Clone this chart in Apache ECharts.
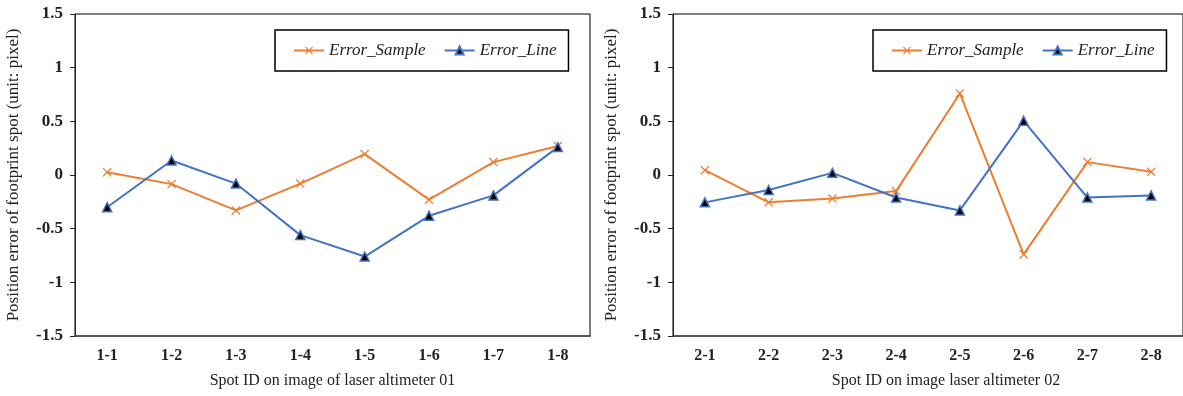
<!DOCTYPE html>
<html>
<head>
<meta charset="utf-8">
<script src="https://cdn.jsdelivr.net/npm/echarts@6/dist/echarts.min.js"></script>
<style>
  html, body { margin: 0; padding: 0; background: #fff; }
  #chart { width: 1183px; height: 396px; }
</style>
</head>
<body>
<div id="chart"></div>
<script>
// values
const spots1 = ['1-1', '1-2', '1-3', '1-4', '1-5', '1-6', '1-7', '1-8']
const spots2 = ['2-1', '2-2', '2-3', '2-4', '2-5', '2-6', '2-7', '2-8']
const sample1 = [0.025, -0.085, -0.33, -0.08, 0.195, -0.23, 0.12, 0.27]
const line1 = [-0.30, 0.135, -0.08, -0.56, -0.76, -0.38, -0.19, 0.26]
const sample2 = [0.045, -0.255, -0.22, -0.15, 0.76, -0.74, 0.12, 0.03]
const line2 = [-0.255, -0.14, 0.02, -0.21, -0.33, 0.505, -0.21, -0.19]
const yTicks = { min: -1.5, max: 1.5, interval: 0.5 }

const orange = '#ED7D31'
const blue = '#4472C4'
const serif = '"Liberation Serif", "Times New Roman", serif'
const cross = 'path://M0,1L1,0L5,4L9,0L10,1L6,5L10,9L9,10L5,6L1,10L0,9L4,5Z'

const chart = echarts.init(document.getElementById('chart'))

const xAxisOf = function (idx, data, name, shift) {
    return {
        type: 'category',
        gridIndex: idx,
        data,
        name,
        nameLocation: 'middle',
        nameGap: 37,
        nameTextStyle: { fontFamily: serif, fontSize: 16, color: '#222', padding: [0, 0, 0, shift] },
        axisLine: { onZero: false, lineStyle: { color: '#555', width: 2 } },
        axisTick: { show: false },
        axisLabel: { fontFamily: serif, fontSize: 16, fontWeight: 'bold', color: '#222', margin: 12 }
    }
}
const yAxisOf = function (idx) {
    return {
        type: 'value',
        gridIndex: idx,
        min: yTicks.min,
        max: yTicks.max,
        interval: yTicks.interval,
        name: 'Position error of footprint spot (unit: pixel)',
        nameLocation: 'middle',
        nameGap: 53,
        nameTextStyle: { fontFamily: serif, fontSize: 17, color: '#222' },
        axisLine: { show: true, lineStyle: { color: '#222', width: 1 } },
        axisTick: { show: true, length: 5, lineStyle: { color: '#222' } },
        splitLine: { show: false },
        axisLabel: { fontFamily: serif, fontSize: 17, fontWeight: 'bold', color: '#222', margin: 12 }
    }
}
const legendOf = function (left) {
    return {
        left,
        top: 30,
        width: 293,
        padding: [12, 12, 12, 18],
        itemGap: 18,
        itemWidth: 30,
        itemHeight: 10,
        borderColor: '#000',
        borderWidth: 1.5,
        textStyle: { fontFamily: serif, fontSize: 17, fontStyle: 'italic', color: '#222' },
        data: ['Error_Sample', 'Error_Line']
    }
}
const sampleSeries = function (idx, data) {
    return {
        name: 'Error_Sample',
        type: 'line',
        xAxisIndex: idx,
        yAxisIndex: idx,
        data,
        symbol: cross,
        symbolSize: 9,
        lineStyle: { color: orange, width: 2 },
        itemStyle: { color: orange }
    }
}
const lineSeries = function (idx, data) {
    return {
        name: 'Error_Line',
        type: 'line',
        xAxisIndex: idx,
        yAxisIndex: idx,
        data,
        symbol: 'triangle',
        symbolSize: 9,
        lineStyle: { color: blue, width: 2 },
        itemStyle: { color: '#000', borderColor: blue, borderWidth: 1.5 }
    }
}

chart.setOption({
    animation: false,
    legend: [legendOf(275), legendOf(873)],
    grid: [
        { left: 75, top: 14, width: 515, height: 322, show: true, borderColor: '#000', borderWidth: 1 },
        { left: 673, top: 14, width: 515, height: 322, show: true, borderColor: '#000', borderWidth: 1 }
    ],
    xAxis: [
        xAxisOf(0, spots1, 'Spot ID on image of laser altimeter 01', 0),
        xAxisOf(1, spots2, 'Spot ID on image laser altimeter 02', 36)
    ],
    yAxis: [yAxisOf(0), yAxisOf(1)],
    series: [
        sampleSeries(0, sample1),
        lineSeries(0, line1),
        sampleSeries(1, sample2),
        lineSeries(1, line2)
    ]
})
</script>
</body>
</html>
